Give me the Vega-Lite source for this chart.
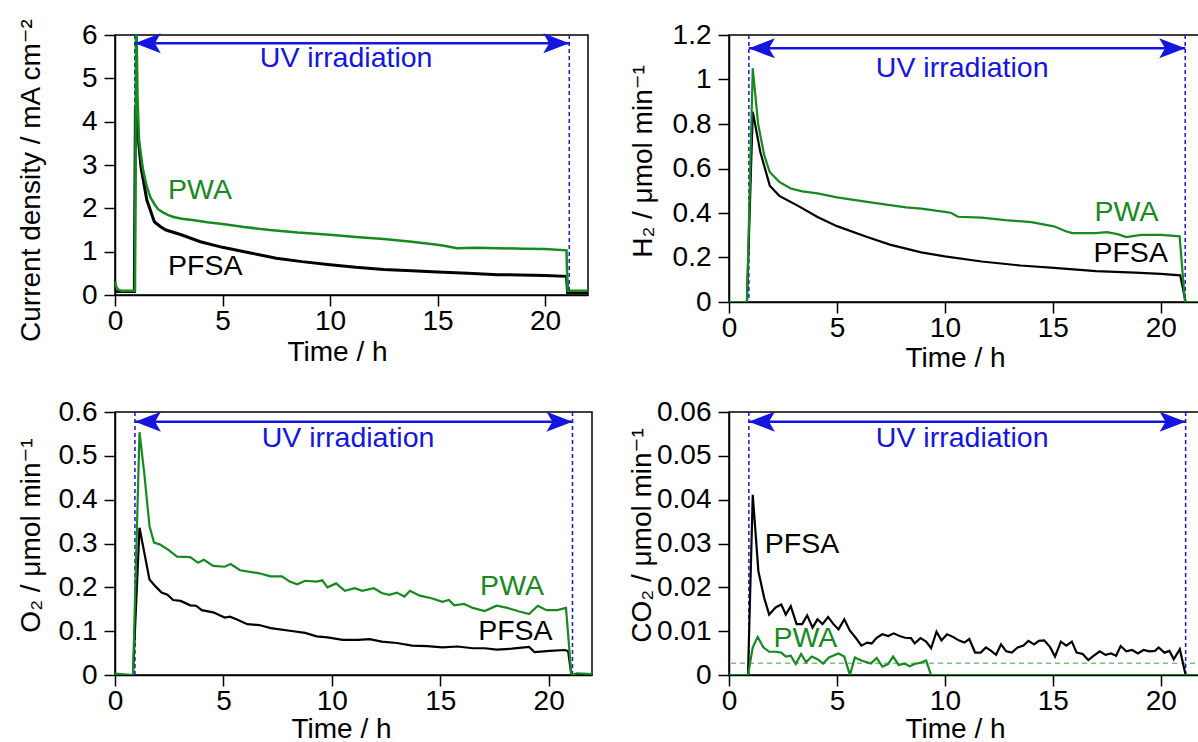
{
  "$schema": "https://vega.github.io/schema/vega-lite/v6.json",
  "autosize": {"type": "none"},
  "padding": {"left": 115, "top": 35, "right": 1083, "bottom": 707},
  "background": "white",
  "config": {
    "font": "Liberation Sans",
    "view": {"stroke": "black", "strokeWidth": 1.5},
    "axis": {
      "domainColor": "black", "domainWidth": 1.5,
      "tickColor": "black", "tickWidth": 1.5, "tickSize": 11,
      "labelFont": "Liberation Sans", "labelFontSize": 28, "labelColor": "black", "labelPadding": 1,
      "titleFont": "Liberation Sans, DejaVu Sans", "titleFontSize": 28, "titleFontWeight": "normal", "titleColor": "black",
      "grid": false, "labelFlush": false, "labelOverlap": false
    },
    "axisY": {"labelPadding": 7},
    "text": {"font": "Liberation Sans", "fontSize": 28.5}
  },
  "columns": 2,
  "spacing": {"row": 110, "column": 137},
  "bounds": "flush",
  "concat": [
    {
      "width": 473, "height": 260,
      "layer": [
        {
          "data": {"values": [{"t": 0.92}, {"t": 21.13}]},
          "mark": {"type": "rule", "color": "#1515e0", "strokeWidth": 1.5, "strokeDash": [4, 3]},
          "encoding": {"x": {"field": "t", "type": "quantitative", "scale": {"domain": [0, 22], "nice": false, "zero": false},
            "axis": {"values": [0, 5, 10, 15, 20], "format": "d", "title": "Time / h", "titleX": 222, "titleY": 65, "titleBaseline": "alphabetic"}}}
        },
        {
          "data": {"values": [
            {"t": 0, "v": 0.08}, {"t": 0.9, "v": 0.08}, {"t": 0.95, "v": 4.3}, {"t": 1.03, "v": 3.9}, {"t": 1.21, "v": 2.95},
            {"t": 1.48, "v": 2.19}, {"t": 1.83, "v": 1.69}, {"t": 2.1, "v": 1.58}, {"t": 2.37, "v": 1.5}, {"t": 3.08, "v": 1.39},
            {"t": 3.97, "v": 1.23}, {"t": 5, "v": 1.1}, {"t": 6.3, "v": 0.97}, {"t": 7.5, "v": 0.85}, {"t": 8.7, "v": 0.77},
            {"t": 10, "v": 0.7}, {"t": 11.2, "v": 0.64}, {"t": 12.5, "v": 0.59}, {"t": 13.8, "v": 0.56}, {"t": 15, "v": 0.53},
            {"t": 16.4, "v": 0.5}, {"t": 17.8, "v": 0.47}, {"t": 20, "v": 0.45}, {"t": 21, "v": 0.43}, {"t": 21.05, "v": 0.06}, {"t": 22, "v": 0.06}
          ]},
          "mark": {"type": "line", "color": "black", "strokeWidth": 3, "clip": true},
          "encoding": {
            "x": {"field": "t", "type": "quantitative"},
            "y": {"field": "v", "type": "quantitative", "scale": {"domain": [0, 6], "nice": false},
              "axis": {"values": [0, 1, 2, 3, 4, 5, 6], "format": "d", "title": "Current density / mA cm⁻²", "titlePadding": 36, "titleY": 145}}
          }
        },
        {
          "data": {"values": [
            {"t": 0, "v": 0.32}, {"t": 0.05, "v": 0.2}, {"t": 0.15, "v": 0.12}, {"t": 0.3, "v": 0.1}, {"t": 0.93, "v": 0.1},
            {"t": 0.98, "v": 7}, {"t": 1.05, "v": 4.5}, {"t": 1.12, "v": 3.56}, {"t": 1.3, "v": 2.9}, {"t": 1.48, "v": 2.5},
            {"t": 1.65, "v": 2.25}, {"t": 1.83, "v": 2.1}, {"t": 2.0, "v": 1.98}, {"t": 2.19, "v": 1.92}, {"t": 2.45, "v": 1.85},
            {"t": 2.72, "v": 1.8}, {"t": 3.1, "v": 1.76}, {"t": 3.6, "v": 1.73}, {"t": 4.3, "v": 1.68}, {"t": 5, "v": 1.64},
            {"t": 6, "v": 1.57}, {"t": 7.2, "v": 1.5}, {"t": 8.5, "v": 1.44}, {"t": 10, "v": 1.39}, {"t": 11.2, "v": 1.34},
            {"t": 12.5, "v": 1.29}, {"t": 13.8, "v": 1.23}, {"t": 15, "v": 1.16}, {"t": 15.5, "v": 1.12}, {"t": 15.9, "v": 1.08},
            {"t": 16.8, "v": 1.09}, {"t": 17.8, "v": 1.08}, {"t": 19, "v": 1.07}, {"t": 20, "v": 1.06}, {"t": 21, "v": 1.03},
            {"t": 21.05, "v": 0.1}, {"t": 22, "v": 0.1}
          ]},
          "mark": {"type": "line", "color": "#168a1e", "strokeWidth": 2.5, "clip": true},
          "encoding": {"x": {"field": "t", "type": "quantitative"}, "y": {"field": "v", "type": "quantitative"}}
        },
        {
          "data": {"values": [{"t": 0.92, "t2": 21.13, "v": 5.81}]},
          "mark": {"type": "rule", "color": "#1515e0", "strokeWidth": 2.5},
          "encoding": {"x": {"field": "t", "type": "quantitative"}, "x2": {"field": "t2"}, "y": {"field": "v", "type": "quantitative"}}
        },
        {
          "data": {"values": [{"t": 0.92, "v": 5.81}]},
          "mark": {"type": "point", "shape": "M0,0L2,-0.77L1.55,0L2,0.77Z", "size": 676, "filled": true, "opacity": 1, "color": "#1515e0"},
          "encoding": {"x": {"field": "t", "type": "quantitative"}, "y": {"field": "v", "type": "quantitative"}}
        },
        {
          "data": {"values": [{"t": 21.13, "v": 5.81}]},
          "mark": {"type": "point", "shape": "M0,0L-2,-0.77L-1.55,0L-2,0.77Z", "size": 676, "filled": true, "opacity": 1, "color": "#1515e0"},
          "encoding": {"x": {"field": "t", "type": "quantitative"}, "y": {"field": "v", "type": "quantitative"}}
        },
        {
          "data": {"values": [{"t": 10.75, "v": 5.47, "label": "UV irradiation"}]},
          "mark": {"type": "text", "color": "#1515e0", "align": "center", "baseline": "middle"},
          "encoding": {"x": {"field": "t", "type": "quantitative"}, "y": {"field": "v", "type": "quantitative"}, "text": {"field": "label"}}
        },
        {
          "data": {"values": [{"t": 2.47, "v": 2.42, "label": "PWA"}, {"t": 2.47, "v": 0.68, "label": "PFSA"}]},
          "mark": {"type": "text", "align": "left", "baseline": "middle"},
          "encoding": {"x": {"field": "t", "type": "quantitative"}, "y": {"field": "v", "type": "quantitative"}, "text": {"field": "label"},
            "color": {"field": "label", "type": "nominal", "scale": {"domain": ["PFSA", "PWA"], "range": ["black", "#168a1e"]}, "legend": null}}
        }
      ]
    },
    {
      "width": 475, "height": 267,
      "layer": [
        {
          "data": {"values": [{"t": 0.92}, {"t": 21.13}]},
          "mark": {"type": "rule", "color": "#1515e0", "strokeWidth": 1.5, "strokeDash": [4, 3]},
          "encoding": {"x": {"field": "t", "type": "quantitative", "scale": {"domain": [0, 22], "nice": false, "zero": false},
            "axis": {"values": [0, 5, 10, 15, 20], "format": "d", "title": "Time / h", "titleX": 226, "titleY": 64, "titleBaseline": "alphabetic"}}}
        },
        {
          "data": {"values": [
            {"t": 0, "v": 0}, {"t": 0.83, "v": 0}, {"t": 1.1, "v": 0.855}, {"t": 1.45, "v": 0.674}, {"t": 1.89, "v": 0.523},
            {"t": 2.33, "v": 0.477}, {"t": 3.2, "v": 0.432}, {"t": 4.1, "v": 0.382}, {"t": 5, "v": 0.341}, {"t": 6.4, "v": 0.292},
            {"t": 7.45, "v": 0.258}, {"t": 8.9, "v": 0.223}, {"t": 10, "v": 0.205}, {"t": 11.7, "v": 0.182}, {"t": 13.5, "v": 0.164},
            {"t": 15.05, "v": 0.153}, {"t": 17, "v": 0.139}, {"t": 18.8, "v": 0.132}, {"t": 20, "v": 0.126}, {"t": 20.9, "v": 0.12},
            {"t": 21.15, "v": 0}, {"t": 22, "v": 0}
          ]},
          "mark": {"type": "line", "color": "black", "strokeWidth": 2.2, "clip": true},
          "encoding": {
            "x": {"field": "t", "type": "quantitative"},
            "y": {"field": "v", "type": "quantitative", "scale": {"domain": [0, 1.2], "nice": false},
              "axis": {"values": [0, 0.2, 0.4, 0.6, 0.8, 1, 1.2], "format": ".1~f", "title": "H₂ / μmol min⁻¹", "titlePadding": 15, "titleY": 126}}
          }
        },
        {
          "data": {"values": [
            {"t": 0, "v": 0}, {"t": 0.83, "v": 0}, {"t": 1.1, "v": 1.05}, {"t": 1.35, "v": 0.8}, {"t": 1.63, "v": 0.66},
            {"t": 1.89, "v": 0.583}, {"t": 2.33, "v": 0.54}, {"t": 2.86, "v": 0.51}, {"t": 3.4, "v": 0.497}, {"t": 4.1, "v": 0.488},
            {"t": 5, "v": 0.47}, {"t": 5.7, "v": 0.46}, {"t": 6.4, "v": 0.45}, {"t": 7.45, "v": 0.435}, {"t": 8.2, "v": 0.425},
            {"t": 8.9, "v": 0.42}, {"t": 10, "v": 0.405}, {"t": 10.3, "v": 0.4}, {"t": 10.6, "v": 0.383}, {"t": 11.7, "v": 0.379},
            {"t": 12.8, "v": 0.368}, {"t": 14, "v": 0.359}, {"t": 15.05, "v": 0.34}, {"t": 15.6, "v": 0.318}, {"t": 15.9, "v": 0.31},
            {"t": 17, "v": 0.31}, {"t": 17.5, "v": 0.314}, {"t": 18, "v": 0.305}, {"t": 18.4, "v": 0.292}, {"t": 19.1, "v": 0.302},
            {"t": 20, "v": 0.302}, {"t": 20.87, "v": 0.295}, {"t": 21.12, "v": 0}, {"t": 22, "v": 0}
          ]},
          "mark": {"type": "line", "color": "#168a1e", "strokeWidth": 2.2, "clip": true},
          "encoding": {"x": {"field": "t", "type": "quantitative"}, "y": {"field": "v", "type": "quantitative"}}
        },
        {
          "data": {"values": [{"t": 0.92, "t2": 21.13, "v": 1.14}]},
          "mark": {"type": "rule", "color": "#1515e0", "strokeWidth": 2.5},
          "encoding": {"x": {"field": "t", "type": "quantitative"}, "x2": {"field": "t2"}, "y": {"field": "v", "type": "quantitative"}}
        },
        {
          "data": {"values": [{"t": 0.92, "v": 1.14}]},
          "mark": {"type": "point", "shape": "M0,0L2,-0.77L1.55,0L2,0.77Z", "size": 676, "filled": true, "opacity": 1, "color": "#1515e0"},
          "encoding": {"x": {"field": "t", "type": "quantitative"}, "y": {"field": "v", "type": "quantitative"}}
        },
        {
          "data": {"values": [{"t": 21.13, "v": 1.14}]},
          "mark": {"type": "point", "shape": "M0,0L-2,-0.77L-1.55,0L-2,0.77Z", "size": 676, "filled": true, "opacity": 1, "color": "#1515e0"},
          "encoding": {"x": {"field": "t", "type": "quantitative"}, "y": {"field": "v", "type": "quantitative"}}
        },
        {
          "data": {"values": [{"t": 10.8, "v": 1.052, "label": "UV irradiation"}]},
          "mark": {"type": "text", "color": "#1515e0", "align": "center", "baseline": "middle"},
          "encoding": {"x": {"field": "t", "type": "quantitative"}, "y": {"field": "v", "type": "quantitative"}, "text": {"field": "label"}}
        },
        {
          "data": {"values": [{"t": 16.93, "v": 0.406, "label": "PWA"}, {"t": 16.88, "v": 0.219, "label": "PFSA"}]},
          "mark": {"type": "text", "align": "left", "baseline": "middle"},
          "encoding": {"x": {"field": "t", "type": "quantitative"}, "y": {"field": "v", "type": "quantitative"}, "text": {"field": "label"},
            "color": {"field": "label", "type": "nominal", "scale": {"domain": ["PFSA", "PWA"], "range": ["black", "#168a1e"]}, "legend": null}}
        }
      ]
    },
    {
      "width": 477, "height": 263,
      "layer": [
        {
          "data": {"values": [{"t": 0.92}, {"t": 21.1}]},
          "mark": {"type": "rule", "color": "#1515e0", "strokeWidth": 1.5, "strokeDash": [4, 3]},
          "encoding": {"x": {"field": "t", "type": "quantitative", "scale": {"domain": [0, 22], "nice": false, "zero": false},
            "axis": {"values": [0, 5, 10, 15, 20], "format": "d", "title": "Time / h", "titleX": 226, "titleY": 62, "titleBaseline": "alphabetic"}}}
        },
        {
          "data": {"values": [
            {"t": 0, "v": 0}, {"t": 0.83, "v": 0}, {"t": 1.13, "v": 0.336}, {"t": 1.59, "v": 0.218}, {"t": 1.89, "v": 0.201},
            {"t": 2.15, "v": 0.188}, {"t": 2.42, "v": 0.183}, {"t": 2.68, "v": 0.171}, {"t": 3.03, "v": 0.169}, {"t": 3.47, "v": 0.159},
            {"t": 3.74, "v": 0.158}, {"t": 4.0, "v": 0.148}, {"t": 4.53, "v": 0.143}, {"t": 5.06, "v": 0.131}, {"t": 5.3, "v": 0.133},
            {"t": 5.6, "v": 0.127}, {"t": 6.1, "v": 0.116}, {"t": 6.65, "v": 0.114}, {"t": 7.18, "v": 0.107}, {"t": 8.06, "v": 0.101},
            {"t": 8.77, "v": 0.096}, {"t": 9.3, "v": 0.088}, {"t": 9.8, "v": 0.086}, {"t": 10.5, "v": 0.08}, {"t": 11.2, "v": 0.08},
            {"t": 11.75, "v": 0.082}, {"t": 12.3, "v": 0.076}, {"t": 13.0, "v": 0.073}, {"t": 13.7, "v": 0.067}, {"t": 14.4, "v": 0.066},
            {"t": 15.1, "v": 0.063}, {"t": 15.8, "v": 0.065}, {"t": 16.5, "v": 0.061}, {"t": 17.05, "v": 0.061}, {"t": 17.6, "v": 0.058},
            {"t": 18.3, "v": 0.06}, {"t": 19.1, "v": 0.064}, {"t": 19.35, "v": 0.052}, {"t": 20.05, "v": 0.055}, {"t": 20.75, "v": 0.057},
            {"t": 20.9, "v": 0.054}, {"t": 21.05, "v": 0}, {"t": 22, "v": 0}
          ]},
          "mark": {"type": "line", "color": "black", "strokeWidth": 2.2, "clip": true},
          "encoding": {
            "x": {"field": "t", "type": "quantitative"},
            "y": {"field": "v", "type": "quantitative", "scale": {"domain": [0, 0.6], "nice": false},
              "axis": {"values": [0, 0.1, 0.2, 0.3, 0.4, 0.5, 0.6], "format": ".1~f", "title": "O₂ / μmol min⁻¹", "titlePadding": 13, "titleY": 123}}
          }
        },
        {
          "data": {"values": [
            {"t": 0, "v": 0.003}, {"t": 0.83, "v": 0}, {"t": 1.13, "v": 0.554}, {"t": 1.35, "v": 0.46}, {"t": 1.59, "v": 0.34},
            {"t": 1.8, "v": 0.302}, {"t": 2.06, "v": 0.298}, {"t": 2.42, "v": 0.287}, {"t": 2.86, "v": 0.27}, {"t": 3.47, "v": 0.269},
            {"t": 3.83, "v": 0.256}, {"t": 4.1, "v": 0.263}, {"t": 4.53, "v": 0.249}, {"t": 5.06, "v": 0.247}, {"t": 5.33, "v": 0.253},
            {"t": 5.77, "v": 0.239}, {"t": 6.65, "v": 0.232}, {"t": 7.18, "v": 0.225}, {"t": 7.7, "v": 0.225}, {"t": 8.06, "v": 0.213},
            {"t": 8.4, "v": 0.207}, {"t": 8.77, "v": 0.215}, {"t": 9.3, "v": 0.213}, {"t": 9.56, "v": 0.216}, {"t": 9.8, "v": 0.2},
            {"t": 10.2, "v": 0.209}, {"t": 10.6, "v": 0.192}, {"t": 11.06, "v": 0.198}, {"t": 11.4, "v": 0.192}, {"t": 11.94, "v": 0.198},
            {"t": 12.3, "v": 0.187}, {"t": 12.65, "v": 0.183}, {"t": 13.0, "v": 0.188}, {"t": 13.35, "v": 0.179}, {"t": 13.6, "v": 0.192},
            {"t": 14.06, "v": 0.181}, {"t": 14.6, "v": 0.175}, {"t": 15.1, "v": 0.167}, {"t": 15.4, "v": 0.171}, {"t": 15.65, "v": 0.159},
            {"t": 16.1, "v": 0.162}, {"t": 16.5, "v": 0.153}, {"t": 17.05, "v": 0.146}, {"t": 17.6, "v": 0.158}, {"t": 18.1, "v": 0.153},
            {"t": 18.65, "v": 0.145}, {"t": 19.1, "v": 0.139}, {"t": 19.5, "v": 0.158}, {"t": 19.9, "v": 0.148}, {"t": 20.4, "v": 0.148},
            {"t": 20.8, "v": 0.153}, {"t": 21.05, "v": 0}, {"t": 21.3, "v": 0.004}, {"t": 22, "v": 0.002}
          ]},
          "mark": {"type": "line", "color": "#168a1e", "strokeWidth": 2.2, "clip": true},
          "encoding": {"x": {"field": "t", "type": "quantitative"}, "y": {"field": "v", "type": "quantitative"}}
        },
        {
          "data": {"values": [{"t": 0.92, "t2": 21.1, "v": 0.578}]},
          "mark": {"type": "rule", "color": "#1515e0", "strokeWidth": 2.5},
          "encoding": {"x": {"field": "t", "type": "quantitative"}, "x2": {"field": "t2"}, "y": {"field": "v", "type": "quantitative"}}
        },
        {
          "data": {"values": [{"t": 0.92, "v": 0.578}]},
          "mark": {"type": "point", "shape": "M0,0L2,-0.77L1.55,0L2,0.77Z", "size": 676, "filled": true, "opacity": 1, "color": "#1515e0"},
          "encoding": {"x": {"field": "t", "type": "quantitative"}, "y": {"field": "v", "type": "quantitative"}}
        },
        {
          "data": {"values": [{"t": 21.1, "v": 0.578}]},
          "mark": {"type": "point", "shape": "M0,0L-2,-0.77L-1.55,0L-2,0.77Z", "size": 676, "filled": true, "opacity": 1, "color": "#1515e0"},
          "encoding": {"x": {"field": "t", "type": "quantitative"}, "y": {"field": "v", "type": "quantitative"}}
        },
        {
          "data": {"values": [{"t": 10.75, "v": 0.541, "label": "UV irradiation"}]},
          "mark": {"type": "text", "color": "#1515e0", "align": "center", "baseline": "middle"},
          "encoding": {"x": {"field": "t", "type": "quantitative"}, "y": {"field": "v", "type": "quantitative"}, "text": {"field": "label"}}
        },
        {
          "data": {"values": [{"t": 16.84, "v": 0.203, "label": "PWA"}, {"t": 16.75, "v": 0.1, "label": "PFSA"}]},
          "mark": {"type": "text", "align": "left", "baseline": "middle"},
          "encoding": {"x": {"field": "t", "type": "quantitative"}, "y": {"field": "v", "type": "quantitative"}, "text": {"field": "label"},
            "color": {"field": "label", "type": "nominal", "scale": {"domain": ["PFSA", "PWA"], "range": ["black", "#168a1e"]}, "legend": null}}
        }
      ]
    },
    {
      "width": 475, "height": 263,
      "layer": [
        {
          "data": {"values": [{"t": 0.92}, {"t": 21.15}]},
          "mark": {"type": "rule", "color": "#1515e0", "strokeWidth": 1.5, "strokeDash": [4, 3]},
          "encoding": {"x": {"field": "t", "type": "quantitative", "scale": {"domain": [0, 22], "nice": false, "zero": false},
            "axis": {"values": [0, 5, 10, 15, 20], "format": "d", "title": "Time / h", "titleX": 226, "titleY": 62, "titleBaseline": "alphabetic"}}}
        },
        {
          "data": {"values": [{"v": 0.0027}]},
          "mark": {"type": "rule", "color": "#7cc47c", "strokeWidth": 1.5, "strokeDash": [5, 4]},
          "encoding": {"y": {"field": "v", "type": "quantitative"}}
        },
        {
          "data": {"values": [
            {"t": 0, "v": 0}, {"t": 0.88, "v": 0}, {"t": 1.1, "v": 0.0411}, {"t": 1.36, "v": 0.0237}, {"t": 1.63, "v": 0.0176},
            {"t": 1.86, "v": 0.0138}, {"t": 2.16, "v": 0.0154}, {"t": 2.42, "v": 0.0161}, {"t": 2.63, "v": 0.0138}, {"t": 2.86, "v": 0.0157},
            {"t": 3.13, "v": 0.0116}, {"t": 3.39, "v": 0.0116}, {"t": 3.62, "v": 0.0136}, {"t": 3.87, "v": 0.0108}, {"t": 4.1, "v": 0.0127},
            {"t": 4.33, "v": 0.0116}, {"t": 4.59, "v": 0.0132}, {"t": 4.84, "v": 0.0116}, {"t": 5.07, "v": 0.0104}, {"t": 5.34, "v": 0.0127},
            {"t": 5.6, "v": 0.0101}, {"t": 5.87, "v": 0.0085}, {"t": 6.13, "v": 0.0067}, {"t": 6.4, "v": 0.0074}, {"t": 6.61, "v": 0.0072},
            {"t": 6.84, "v": 0.0085}, {"t": 7.1, "v": 0.0093}, {"t": 7.37, "v": 0.0089}, {"t": 7.63, "v": 0.0095}, {"t": 7.9, "v": 0.0089},
            {"t": 8.16, "v": 0.0085}, {"t": 8.43, "v": 0.0084}, {"t": 8.6, "v": 0.0072}, {"t": 8.87, "v": 0.0084}, {"t": 9.13, "v": 0.0076},
            {"t": 9.36, "v": 0.0061}, {"t": 9.61, "v": 0.0099}, {"t": 9.84, "v": 0.0079}, {"t": 10.1, "v": 0.0093}, {"t": 10.37, "v": 0.0087},
            {"t": 10.64, "v": 0.0079}, {"t": 10.9, "v": 0.0074}, {"t": 11.13, "v": 0.0082}, {"t": 11.4, "v": 0.0051}, {"t": 11.66, "v": 0.0051},
            {"t": 11.9, "v": 0.0063}, {"t": 12.14, "v": 0.0055}, {"t": 12.37, "v": 0.0046}, {"t": 12.6, "v": 0.007}, {"t": 12.84, "v": 0.0054},
            {"t": 13.1, "v": 0.0051}, {"t": 13.37, "v": 0.0063}, {"t": 13.64, "v": 0.0067}, {"t": 13.87, "v": 0.0078}, {"t": 14.13, "v": 0.007},
            {"t": 14.35, "v": 0.0078}, {"t": 14.6, "v": 0.0079}, {"t": 14.88, "v": 0.0063}, {"t": 15.1, "v": 0.0042}, {"t": 15.37, "v": 0.0076},
            {"t": 15.62, "v": 0.0067}, {"t": 15.88, "v": 0.0076}, {"t": 16.1, "v": 0.0051}, {"t": 16.38, "v": 0.0048}, {"t": 16.64, "v": 0.0034},
            {"t": 16.9, "v": 0.0044}, {"t": 17.17, "v": 0.0054}, {"t": 17.44, "v": 0.0046}, {"t": 17.7, "v": 0.0049}, {"t": 17.93, "v": 0.0044},
            {"t": 18.14, "v": 0.0066}, {"t": 18.4, "v": 0.0054}, {"t": 18.67, "v": 0.0057}, {"t": 18.94, "v": 0.0049}, {"t": 19.2, "v": 0.0057},
            {"t": 19.47, "v": 0.0054}, {"t": 19.73, "v": 0.0055}, {"t": 19.9, "v": 0.0063}, {"t": 20.17, "v": 0.0051}, {"t": 20.4, "v": 0.0055},
            {"t": 20.6, "v": 0.0036}, {"t": 20.88, "v": 0.0059}, {"t": 21.15, "v": 0}, {"t": 22, "v": 0}
          ]},
          "mark": {"type": "line", "color": "black", "strokeWidth": 2.2, "clip": true},
          "encoding": {
            "x": {"field": "t", "type": "quantitative"},
            "y": {"field": "v", "type": "quantitative", "scale": {"domain": [0, 0.06], "nice": false},
              "axis": {"values": [0, 0.01, 0.02, 0.03, 0.04, 0.05, 0.06], "format": ".2~f", "title": "CO₂ / μmol min⁻¹", "titlePadding": 0, "titleY": 123}}
          }
        },
        {
          "data": {"values": [
            {"t": 0, "v": 0}, {"t": 0.88, "v": 0}, {"t": 1.1, "v": 0.0063}, {"t": 1.33, "v": 0.0087}, {"t": 1.59, "v": 0.0063},
            {"t": 1.86, "v": 0.0053}, {"t": 2.16, "v": 0.0053}, {"t": 2.42, "v": 0.0051}, {"t": 2.63, "v": 0.0042}, {"t": 2.86, "v": 0.0044},
            {"t": 3.09, "v": 0.0025}, {"t": 3.34, "v": 0.0048}, {"t": 3.57, "v": 0.0029}, {"t": 3.83, "v": 0.0042}, {"t": 4.1, "v": 0.0036},
            {"t": 4.36, "v": 0.0026}, {"t": 4.63, "v": 0.004}, {"t": 5.07, "v": 0.0049}, {"t": 5.34, "v": 0.0042}, {"t": 5.6, "v": 0},
            {"t": 5.83, "v": 0.004}, {"t": 6.13, "v": 0.0033}, {"t": 6.57, "v": 0.0026}, {"t": 6.84, "v": 0.0039}, {"t": 7.1, "v": 0.0019},
            {"t": 7.37, "v": 0.0025}, {"t": 7.6, "v": 0.0042}, {"t": 7.86, "v": 0.0023}, {"t": 8.13, "v": 0.0026}, {"t": 8.37, "v": 0.002},
            {"t": 8.6, "v": 0.0025}, {"t": 8.87, "v": 0.0028}, {"t": 9.13, "v": 0.0033}, {"t": 9.36, "v": 0}, {"t": 22, "v": 0}
          ]},
          "mark": {"type": "line", "color": "#168a1e", "strokeWidth": 2.2, "clip": true},
          "encoding": {"x": {"field": "t", "type": "quantitative"}, "y": {"field": "v", "type": "quantitative"}}
        },
        {
          "data": {"values": [{"t": 0.92, "t2": 21.15, "v": 0.0578}]},
          "mark": {"type": "rule", "color": "#1515e0", "strokeWidth": 2.5},
          "encoding": {"x": {"field": "t", "type": "quantitative"}, "x2": {"field": "t2"}, "y": {"field": "v", "type": "quantitative"}}
        },
        {
          "data": {"values": [{"t": 0.92, "v": 0.0578}]},
          "mark": {"type": "point", "shape": "M0,0L2,-0.77L1.55,0L2,0.77Z", "size": 676, "filled": true, "opacity": 1, "color": "#1515e0"},
          "encoding": {"x": {"field": "t", "type": "quantitative"}, "y": {"field": "v", "type": "quantitative"}}
        },
        {
          "data": {"values": [{"t": 21.15, "v": 0.0578}]},
          "mark": {"type": "point", "shape": "M0,0L-2,-0.77L-1.55,0L-2,0.77Z", "size": 676, "filled": true, "opacity": 1, "color": "#1515e0"},
          "encoding": {"x": {"field": "t", "type": "quantitative"}, "y": {"field": "v", "type": "quantitative"}}
        },
        {
          "data": {"values": [{"t": 10.8, "v": 0.0541, "label": "UV irradiation"}]},
          "mark": {"type": "text", "color": "#1515e0", "align": "center", "baseline": "middle"},
          "encoding": {"x": {"field": "t", "type": "quantitative"}, "y": {"field": "v", "type": "quantitative"}, "text": {"field": "label"}}
        },
        {
          "data": {"values": [{"t": 2.06, "v": 0.0085, "label": "PWA"}, {"t": 1.66, "v": 0.03, "label": "PFSA"}]},
          "mark": {"type": "text", "align": "left", "baseline": "middle"},
          "encoding": {"x": {"field": "t", "type": "quantitative"}, "y": {"field": "v", "type": "quantitative"}, "text": {"field": "label"},
            "color": {"field": "label", "type": "nominal", "scale": {"domain": ["PFSA", "PWA"], "range": ["black", "#168a1e"]}, "legend": null}}
        }
      ]
    }
  ]
}
